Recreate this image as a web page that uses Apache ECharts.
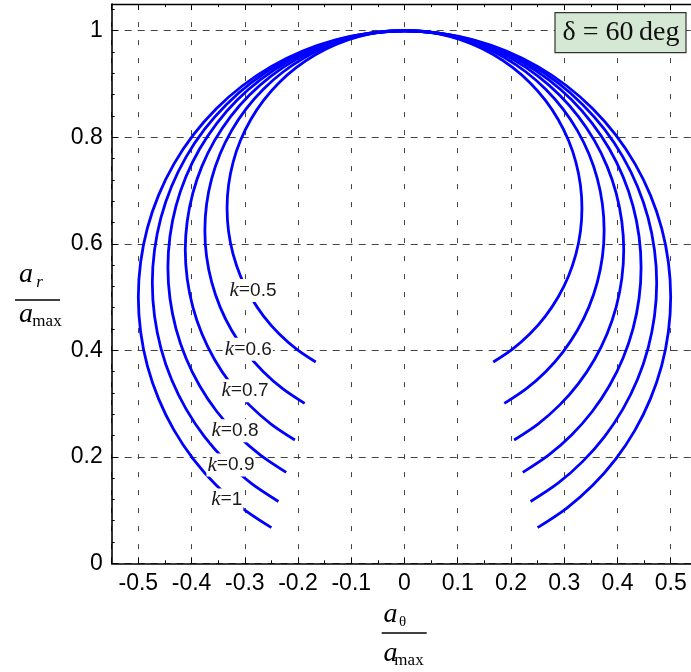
<!DOCTYPE html>
<html>
<head>
<meta charset="utf-8">
<script src="https://cdn.jsdelivr.net/npm/echarts@6/dist/echarts.min.js"></script>
<style>
html, body { margin: 0; padding: 0; background: #fff; }
#chart { width: 691px; height: 672px; }
</style>
</head>
<body>
<div id="chart"></div>
<script>
// curve points (left end -> top -> right end)
var k10_x = [-0.25, -0.3044, -0.3536, -0.3967, -0.433, -0.4619, -0.483, -0.4957, -0.5, -0.4957, -0.483, -0.4619, -0.433, -0.3967, -0.3536, -0.3044, -0.25, -0.1913, -0.1294, -0.0653, 0,
             0.0653, 0.1294, 0.1913, 0.25, 0.3044, 0.3536, 0.3967, 0.433, 0.4619, 0.483, 0.4957, 0.5, 0.4957, 0.483, 0.4619, 0.433, 0.3967, 0.3536, 0.3044, 0.25];
var k10_y = [0.067, 0.1033, 0.1464, 0.1956, 0.25, 0.3087, 0.3706, 0.4347, 0.5, 0.5653, 0.6294, 0.6913, 0.75, 0.8044, 0.8536, 0.8967, 0.933, 0.9619, 0.983, 0.9957, 1,
             0.9957, 0.983, 0.9619, 0.933, 0.8967, 0.8536, 0.8044, 0.75, 0.6913, 0.6294, 0.5653, 0.5, 0.4347, 0.3706, 0.3087, 0.25, 0.1956, 0.1464, 0.1033, 0.067];

var k09_x = [-0.2368, -0.2884, -0.3349, -0.3758, -0.4102, -0.4376, -0.4575, -0.4696, -0.4737, -0.4696, -0.4575, -0.4376, -0.4102, -0.3758, -0.3349, -0.2884, -0.2368, -0.1813, -0.1226, -0.0618, 0,
             0.0618, 0.1226, 0.1813, 0.2368, 0.2884, 0.3349, 0.3758, 0.4102, 0.4376, 0.4575, 0.4696, 0.4737, 0.4696, 0.4575, 0.4376, 0.4102, 0.3758, 0.3349, 0.2884, 0.2368];
var k09_y = [0.1161, 0.1505, 0.1914, 0.2379, 0.2895, 0.345, 0.4037, 0.4645, 0.5263, 0.5881, 0.6489, 0.7076, 0.7631, 0.8147, 0.8612, 0.9021, 0.9365, 0.9639, 0.9838, 0.9959, 1,
             0.9959, 0.9838, 0.9639, 0.9365, 0.9021, 0.8612, 0.8147, 0.7631, 0.7076, 0.6489, 0.5881, 0.5263, 0.4645, 0.4037, 0.345, 0.2895, 0.2379, 0.1914, 0.1505, 0.1161];

var k08_x = [-0.2222, -0.2706, -0.3143, -0.3526, -0.3849, -0.4106, -0.4293, -0.4406, -0.4444, -0.4406, -0.4293, -0.4106, -0.3849, -0.3526, -0.3143, -0.2706, -0.2222, -0.1701, -0.115, -0.058, 0,
             0.058, 0.115, 0.1701, 0.2222, 0.2706, 0.3143, 0.3526, 0.3849, 0.4106, 0.4293, 0.4406, 0.4444, 0.4406, 0.4293, 0.4106, 0.3849, 0.3526, 0.3143, 0.2706, 0.2222];
var k08_y = [0.1707, 0.203, 0.2413, 0.285, 0.3334, 0.3855, 0.4406, 0.4976, 0.5556, 0.6136, 0.6706, 0.7257, 0.7778, 0.8262, 0.8699, 0.9082, 0.9405, 0.9662, 0.9849, 0.9962, 1,
             0.9962, 0.9849, 0.9662, 0.9405, 0.9082, 0.8699, 0.8262, 0.7778, 0.7257, 0.6706, 0.6136, 0.5556, 0.4976, 0.4406, 0.3855, 0.3334, 0.285, 0.2413, 0.203, 0.1707];

var k07_x = [-0.2059, -0.2507, -0.2912, -0.3267, -0.3566, -0.3804, -0.3977, -0.4082, -0.4118, -0.4082, -0.3977, -0.3804, -0.3566, -0.3267, -0.2912, -0.2507, -0.2059, -0.1576, -0.1066, -0.0537, 0,
             0.0537, 0.1066, 0.1576, 0.2059, 0.2507, 0.2912, 0.3267, 0.3566, 0.3804, 0.3977, 0.4082, 0.4118, 0.4082, 0.3977, 0.3804, 0.3566, 0.3267, 0.2912, 0.2507, 0.2059];
var k07_y = [0.2316, 0.2615, 0.297, 0.3375, 0.3823, 0.4306, 0.4816, 0.5345, 0.5882, 0.6419, 0.6948, 0.7458, 0.7941, 0.8389, 0.8794, 0.9149, 0.9448, 0.9686, 0.9859, 0.9964, 1,
             0.9964, 0.9859, 0.9686, 0.9448, 0.9149, 0.8794, 0.8389, 0.7941, 0.7458, 0.6948, 0.6419, 0.5882, 0.5345, 0.4816, 0.4306, 0.3823, 0.3375, 0.297, 0.2615, 0.2316];

var k06_x = [-0.1875, -0.2283, -0.2652, -0.2975, -0.3248, -0.3465, -0.3622, -0.3718, -0.375, -0.3718, -0.3622, -0.3465, -0.3248, -0.2975, -0.2652, -0.2283, -0.1875, -0.1435, -0.0971, -0.049, 0,
             0.049, 0.0971, 0.1435, 0.1875, 0.2283, 0.2652, 0.2975, 0.3248, 0.3465, 0.3622, 0.3718, 0.375, 0.3718, 0.3622, 0.3465, 0.3248, 0.2975, 0.2652, 0.2283, 0.1875];
var k06_y = [0.3002, 0.3275, 0.3598, 0.3967, 0.4375, 0.4815, 0.5279, 0.576, 0.625, 0.674, 0.7221, 0.7685, 0.8125, 0.8533, 0.8902, 0.9225, 0.9498, 0.9715, 0.9872, 0.9968, 1,
             0.9968, 0.9872, 0.9715, 0.9498, 0.9225, 0.8902, 0.8533, 0.8125, 0.7685, 0.7221, 0.674, 0.625, 0.576, 0.5279, 0.4815, 0.4375, 0.3967, 0.3598, 0.3275, 0.3002];

var k05_x = [-0.1667, -0.2029, -0.2357, -0.2644, -0.2887, -0.308, -0.322, -0.3305, -0.3333, -0.3305, -0.322, -0.308, -0.2887, -0.2644, -0.2357, -0.2029, -0.1667, -0.1276, -0.0863, -0.0435, 0,
             0.0435, 0.0863, 0.1276, 0.1667, 0.2029, 0.2357, 0.2644, 0.2887, 0.308, 0.322, 0.3305, 0.3333, 0.3305, 0.322, 0.308, 0.2887, 0.2644, 0.2357, 0.2029, 0.1667];
var k05_y = [0.378, 0.4023, 0.431, 0.4638, 0.5, 0.5391, 0.5804, 0.6232, 0.6667, 0.7102, 0.753, 0.7943, 0.8334, 0.8696, 0.9024, 0.9311, 0.9554, 0.9747, 0.9887, 0.9972, 1,
             0.9972, 0.9887, 0.9747, 0.9554, 0.9311, 0.9024, 0.8696, 0.8334, 0.7943, 0.753, 0.7102, 0.6667, 0.6232, 0.5804, 0.5391, 0.5, 0.4638, 0.431, 0.4023, 0.378];

// k labels
var kNames = ['0.5', '0.6', '0.7', '0.8', '0.9', '1'];
var kLabelX = [-0.2846, -0.2933, -0.2996, -0.3184, -0.326, -0.3339];
var kLabelY = [0.512, 0.4018, 0.324, 0.2489, 0.1845, 0.1189];

function pairs(xs, ys) {
    var out = [];
    for (var i = 0; i < xs.length; i++) out.push([xs[i], ys[i]]);
    return out;
}

var curves = [
    pairs(k05_x, k05_y), pairs(k06_x, k06_y), pairs(k07_x, k07_y),
    pairs(k08_x, k08_y), pairs(k09_x, k09_y), pairs(k10_x, k10_y)
];

var series = curves.map(function (d, i) {
    return {
        name: 'k=' + kNames[i],
        type: 'line',
        data: d,
        smooth: 0.3,
        showSymbol: false,
        z: 3,
        lineStyle: { color: '#0000ff', width: 2.8 }
    };
});

var labelData = [];
for (var i = 0; i < kNames.length; i++) {
    labelData.push([kLabelX[i], kLabelY[i], kNames[i]]);
}
series.push({
    type: 'scatter',
    data: labelData,
    symbolSize: 0,
    z: 5,
    itemStyle: { opacity: 1 },
    label: {
        show: true,
        position: 'inside',
        opacity: 1,
        formatter: function (p) { return '{k|k}{e|=}{n|' + p.value[2] + '}'; },
        backgroundColor: '#ffffff',
        padding: [1, 1],
        rich: {
            k: { fontFamily: 'Liberation Serif', fontStyle: 'italic', fontSize: 21, color: '#1a1a1a' },
            e: { fontFamily: 'Liberation Serif', fontSize: 20, color: '#1a1a1a' },
            n: { fontFamily: 'Liberation Sans', fontSize: 19, color: '#1a1a1a' }
        }
    }
});

var chart = echarts.init(document.getElementById('chart'));
var option = {
    animation: false,
    grid: { left: 111.7, right: -6.3, top: 4.1, bottom: 108.7, containLabel: false, outerBoundsMode: 'none' },
    xAxis: [{
        type: 'value',
        position: 'bottom',
        min: -0.55,
        max: 0.55,
        splitNumber: 11,
        axisLine: { onZero: false, lineStyle: { color: '#000', width: 1.6 } },
        axisTick: { inside: true, length: 6, lineStyle: { color: '#000' } },
        minorTick: { show: true, splitNumber: 2, length: 3, lineStyle: { color: '#000' } },
        splitLine: { show: true, lineStyle: { color: '#444', type: [5, 13], width: 1 } },
        axisLabel: { fontFamily: 'Liberation Sans', fontSize: 23, color: '#000', margin: 9, showMinLabel: false, showMaxLabel: false }
    }, {
        type: 'value',
        position: 'top',
        min: -0.55,
        max: 0.55,
        splitNumber: 11,
        axisLine: { onZero: false, lineStyle: { color: '#000', width: 1.4 } },
        axisTick: { inside: true, length: 6, lineStyle: { color: '#000' } },
        minorTick: { show: true, splitNumber: 2, length: 3, lineStyle: { color: '#000' } },
        splitLine: { show: false },
        axisLabel: { show: false }
    }],
    yAxis: {
        type: 'value',
        min: 0,
        max: 1.05,
        interval: 0.2,
        axisLine: { show: true, onZero: false, lineStyle: { color: '#000', width: 1.6 } },
        axisTick: { inside: true, length: 6, lineStyle: { color: '#000' } },
        minorTick: { show: true, splitNumber: 5, length: 3, lineStyle: { color: '#000' } },
        splitLine: { show: true, lineStyle: { color: '#444', type: [7, 6], width: 1 } },
        axisLabel: { fontFamily: 'Liberation Sans', fontSize: 23, color: '#000', margin: 9, showMaxLabel: false }
    },
    graphic: [
        // delta box
        { type: 'rect', shape: { x: 555, y: 12.7, width: 131, height: 40 }, style: { fill: '#d5e8d4', stroke: '#333', lineWidth: 1.2 }, z: 10 },
        { type: 'text', x: 621, y: 33, style: { text: 'δ = 60\u2009deg', font: '28px "Liberation Serif"', fill: '#111', align: 'center', verticalAlign: 'middle' }, z: 11 },
        // y axis name a_r / a_max
        { type: 'text', x: 26, y: 274.5, style: { text: 'a', font: 'italic 28px "Liberation Serif"', fill: '#000', align: 'center', verticalAlign: 'middle' } },
        { type: 'text', x: 39.5, y: 283, style: { text: 'r', font: 'italic 17px "Liberation Serif"', fill: '#000', align: 'center', verticalAlign: 'middle' } },
        { type: 'line', shape: { x1: 15, y1: 300, x2: 60, y2: 300 }, style: { stroke: '#000', lineWidth: 1.3 } },
        { type: 'text', x: 26, y: 314.5, style: { text: 'a', font: 'italic 28px "Liberation Serif"', fill: '#000', align: 'center', verticalAlign: 'middle' } },
        { type: 'text', x: 47, y: 321.5, style: { text: 'max', font: '17px "Liberation Serif"', fill: '#000', align: 'center', verticalAlign: 'middle' } },
        // x axis name a_theta / a_max
        { type: 'text', x: 390.5, y: 614.5, style: { text: 'a', font: 'italic 28px "Liberation Serif"', fill: '#000', align: 'center', verticalAlign: 'middle' } },
        { type: 'text', x: 402.5, y: 622, style: { text: 'θ', font: '15px "Liberation Serif"', fill: '#000', align: 'center', verticalAlign: 'middle' } },
        { type: 'line', shape: { x1: 381.7, y1: 633, x2: 426.7, y2: 633 }, style: { stroke: '#000', lineWidth: 1.3 } },
        { type: 'text', x: 390.5, y: 653.5, style: { text: 'a', font: 'italic 28px "Liberation Serif"', fill: '#000', align: 'center', verticalAlign: 'middle' } },
        { type: 'text', x: 409, y: 660.5, style: { text: 'max', font: '17px "Liberation Serif"', fill: '#000', align: 'center', verticalAlign: 'middle' } }
    ],
    series: series
};
chart.setOption(option);
</script>
</body>
</html>
